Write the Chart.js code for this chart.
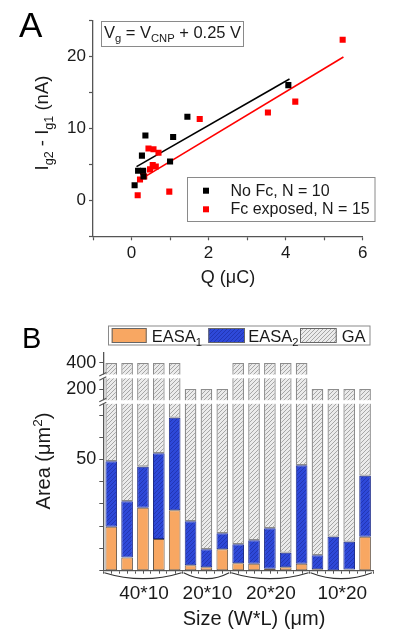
<!DOCTYPE html>
<html><head><meta charset="utf-8">
<script src="https://cdn.jsdelivr.net/npm/chart.js@4/dist/chart.umd.min.js"></script>
<style>
html,body{margin:0;padding:0;background:#fff;width:397px;height:637px;overflow:hidden}
canvas{position:absolute;left:0;display:block}
#cA{top:0}
#cB{top:300px}
</style></head><body>
<canvas id="cA" width="397" height="300"></canvas>
<canvas id="cB" width="397" height="337"></canvas>
<script>
const FONT = 'Arial, "Liberation Sans", Helvetica, sans-serif';

// ---------- Panel A data ----------
const seriesA = ['No Fc, N = 10', 'Fc exposed, N = 15'];
const noFcQ = [0.08, 0.17, 0.30, 0.31, 0.27, 0.36, 1.00, 1.08, 1.45, 4.07];
const noFcI = [2.1, 4.1, 4.1, 3.3, 6.2, 9.0, 5.4, 8.8, 11.6, 16.0];
const fcQ = [0.16, 0.98, 0.22, 0.33, 0.30, 0.48, 0.63, 0.55, 0.44, 0.57, 0.70, 1.77, 3.54, 4.25, 5.48];
const fcI = [0.7, 1.2, 2.9, 3.3, 3.9, 4.3, 4.7, 4.9, 7.2, 7.1, 6.6, 11.3, 12.2, 13.7, 22.3];
const noFcFitQ = [0.13, 4.10];
const noFcFitI = [4.67, 16.85];
const fcFitQ = [0.20, 5.50];
const fcFitI = [2.80, 19.90];
const xTickLabelsA = [0, 2, 4, 6];
const yTickLabelsA = [0, 10, 20];

// ---------- Panel B data ----------
const sizeGroups = ['40*10', '20*10', '20*20', '10*20'];
const devicesPerGroup = [5, 3, 5, 4];
const geometricArea = [400, 200, 400, 200];
const easa1 = [19.8, 5.9, 28.3, 14.3, 27.2, 2.4, 1.5, 9.6, 3.3, 3.1, 0.9, 1.5, 3.1, 0.6, 0.2, 0.5, 15.3];
const easa2 = [29.4, 25.3, 18.5, 38.5, 41.6, 19.8, 8.1, 7.2, 8.6, 10.6, 18.2, 6.6, 44.3, 6.3, 15.1, 12.5, 27.4];
const seriesB = ['EASA', 'EASA', 'GA'];
const yTickValuesB = [0, 10, 20, 30, 40, 50, 60, 70, 200, 400];
const yTickLabelsB = [50, 200, 400];

// ---------- helpers ----------
function richWidth(ctx, parts, size) {
  let w = 0;
  for (const p of parts) {
    ctx.font = ((p.s || p.u) ? size * 0.68 : size) + 'px ' + FONT;
    w += ctx.measureText(p.t).width;
  }
  return w;
}
function drawRich(ctx, parts, x, y, size, align, color) {
  const w = richWidth(ctx, parts, size);
  let cx = align === 'center' ? x - w / 2 : align === 'right' ? x - w : x;
  ctx.fillStyle = color || '#1a1a1a';
  ctx.textBaseline = 'alphabetic';
  ctx.textAlign = 'left';
  for (const p of parts) {
    const small = p.s || p.u;
    const fs = small ? size * 0.68 : size;
    ctx.font = fs + 'px ' + FONT;
    const dy = p.s ? size * 0.28 : p.u ? -size * 0.4 : 0;
    ctx.fillText(p.t, cx, y + dy);
    cx += ctx.measureText(p.t).width;
  }
}
function hatch(ctx, bg, fg, s, lw) {
  const c = document.createElement('canvas');
  c.width = s; c.height = s;
  const g = c.getContext('2d');
  g.fillStyle = bg; g.fillRect(0, 0, s, s);
  g.strokeStyle = fg; g.lineWidth = lw;
  g.beginPath();
  g.moveTo(-1, s + 1); g.lineTo(s + 1, -1);
  g.moveTo(-s / 2 - 1, s / 2 + 1); g.lineTo(s / 2 + 1, -s / 2 - 1);
  g.moveTo(s / 2 - 1, s * 1.5 + 1); g.lineTo(s * 1.5 + 1, s / 2 - 1);
  g.stroke();
  return ctx.createPattern(c, 'repeat');
}

const AXIS = '#555';
const TXT = '#1a1a1a';

// ---------- Panel A ----------
const pluginA = {
  id: 'decorA',
  afterDraw(chart) {
    const ctx = chart.ctx;
    ctx.save();
    ctx.fillStyle = '#000'; ctx.font = '35px ' + FONT; ctx.textAlign = 'left'; ctx.textBaseline = 'alphabetic';
    ctx.fillText('A', 19, 37);
    ctx.strokeStyle = '#8a8a8a'; ctx.lineWidth = 1;
    ctx.fillStyle = '#fff';
    ctx.fillRect(101.5, 21.5, 142, 25);
    ctx.strokeRect(101.5, 21.5, 142, 25);
    drawRich(ctx, [{t: 'V'}, {t: 'g', s: 1}, {t: ' = V'}, {t: 'CNP', s: 1}, {t: ' + 0.25 V'}], 172.5, 37.5, 16.5, 'center', TXT);
    ctx.fillStyle = '#fff';
    ctx.fillRect(187.5, 177.5, 187.5, 44);
    ctx.strokeStyle = '#8a8a8a';
    ctx.strokeRect(187.5, 177.5, 187.5, 44);
    const ys = [190.7, 209.3];
    chart.data.datasets.slice(0, 2).forEach((ds, i) => {
      ctx.fillStyle = ds.backgroundColor;
      ctx.fillRect(203, ys[i] - 3, 6, 6);
      ctx.fillStyle = TXT; ctx.font = '16px ' + FONT; ctx.textBaseline = 'middle'; ctx.textAlign = 'left';
      ctx.fillText(ds.label, 230.5, ys[i] + 0.5);
    });
    drawRich(ctx, [{t: 'Q (μC)'}], 228, 283, 18, 'center', TXT);
    ctx.translate(41.5, 123);
    ctx.rotate(-Math.PI / 2);
    drawRich(ctx, [{t: 'I'}, {t: 'g2', s: 1}, {t: ' - I'}, {t: 'g1', s: 1}, {t: ' (nA)'}], 0, 6, 18.5, 'center', TXT);
    ctx.restore();
  }
};

const ptBase = {pointStyle: 'rect', pointRadius: 4.3, pointHoverRadius: 4.3, borderWidth: 0, showLine: false};
new Chart(document.getElementById('cA'), {
  type: 'scatter',
  data: {
    datasets: [
      Object.assign({label: seriesA[0], data: noFcQ.map((q, i) => ({x: q, y: noFcI[i]})), backgroundColor: '#000000', borderColor: '#000000'}, ptBase),
      Object.assign({label: seriesA[1], data: fcQ.map((q, i) => ({x: q, y: fcI[i]})), backgroundColor: '#ff0000', borderColor: '#ff0000'}, ptBase),
      {label: 'fitNoFc', data: noFcFitQ.map((q, i) => ({x: q, y: noFcFitI[i]})), showLine: true, borderColor: '#000', borderWidth: 1.6, pointRadius: 0, fill: false},
      {label: 'fitFc', data: fcFitQ.map((q, i) => ({x: q, y: fcFitI[i]})), showLine: true, borderColor: '#ff0000', borderWidth: 1.6, pointRadius: 0, fill: false}
    ]
  },
  options: {
    responsive: false, animation: false, devicePixelRatio: 1, events: [],
    layout: {padding: {left: 0, right: 34.3, top: 20.3, bottom: 0}},
    plugins: {legend: {display: false}, tooltip: {enabled: false}},
    scales: {
      x: {
        type: 'linear', min: -1, max: 6,
        afterFit: s => { s.height = 63.7; },
        ticks: {stepSize: 1, autoSkip: false, maxRotation: 0, padding: 3, color: TXT, font: {family: FONT, size: 17},
          callback: v => xTickLabelsA.includes(v) ? String(v) : ''},
        grid: {drawOnChartArea: false, tickLength: 4, color: AXIS, tickWidth: 1.2},
        border: {color: AXIS, width: 1.3}
      },
      y: {
        type: 'linear', min: -5, max: 25,
        afterFit: s => { s.width = 93; },
        ticks: {stepSize: 5, autoSkip: false, padding: 3, color: TXT, font: {family: FONT, size: 17},
          callback: v => yTickLabelsA.includes(v) ? String(v) : ''},
        grid: {drawOnChartArea: false, tickLength: 4, color: AXIS, tickWidth: 1.2},
        border: {color: AXIS, width: 1.3}
      }
    }
  },
  plugins: [pluginA]
});

// ---------- Panel B ----------
const breakValues = [0, 76, 200, 300, 400, 422];
const breakFractions = [0, 0.7763, 0.8346, 0.8925, 0.9541, 1.0];
class BrokenLinearScale extends Chart.LinearScale {
  _frac(v) {
    if (v <= breakValues[0]) return breakFractions[0];
    for (let i = 1; i < breakValues.length; i++) {
      if (v <= breakValues[i]) {
        const t = (v - breakValues[i - 1]) / (breakValues[i] - breakValues[i - 1]);
        return breakFractions[i - 1] + t * (breakFractions[i] - breakFractions[i - 1]);
      }
    }
    return 1;
  }
  _val(f) {
    for (let i = 1; i < breakFractions.length; i++) {
      if (f <= breakFractions[i]) {
        const t = (f - breakFractions[i - 1]) / (breakFractions[i] - breakFractions[i - 1]);
        return breakValues[i - 1] + t * (breakValues[i] - breakValues[i - 1]);
      }
    }
    return breakValues[breakValues.length - 1];
  }
  getPixelForValue(value) { return this.getPixelForDecimal(this._frac(value)); }
  getValueForPixel(pixel) { return this._val(this.getDecimalForPixel(pixel)); }
}
BrokenLinearScale.id = 'brokenLinear';
BrokenLinearScale.defaults = Chart.LinearScale.defaults;
Chart.register(BrokenLinearScale);

const canvasB = document.getElementById('cB');
const ctxB = canvasB.getContext('2d');
const ORANGE = '#f8a762';
const blueFill = hatch(ctxB, '#2e49d9', '#2236b4', 4, 1);
const gaFill = hatch(ctxB, '#ebebeb', '#a6a6a6', 4, 1);

const deviceLabels = [];
const deviceGA = [];
sizeGroups.forEach((g, gi) => {
  for (let k = 0; k < devicesPerGroup[gi]; k++) {
    deviceLabels.push(g + ' #' + (k + 1));
    deviceGA.push(geometricArea[gi]);
  }
});
const gaRest = deviceGA.map((a, i) => a - easa1[i] - easa2[i]);

const bandsB = [[74.5, 78.3], [100.2, 103.8]];

const pluginB = {
  id: 'decorB',
  afterDatasetsDraw(chart) {
    const ctx = chart.ctx, ca = chart.chartArea;
    const ax = ca.left;
    ctx.save();
    ctx.fillStyle = '#fff';
    bandsB.forEach(([y1, y2]) => ctx.fillRect(ax - 6, y1, ca.right + 4 - (ax - 6), y2 - y1));
    ctx.strokeStyle = AXIS; ctx.lineWidth = 1.2;
    bandsB.forEach(([y1, y2]) => {
      ctx.beginPath();
      ctx.moveTo(ax - 4, y1 + 1.5); ctx.lineTo(ax + 3, y1 - 2);
      ctx.moveTo(ax - 4, y2 + 2); ctx.lineTo(ax + 3, y2 - 1.5);
      ctx.stroke();
    });
    ctx.restore();
  },
  afterDraw(chart) {
    const ctx = chart.ctx, ca = chart.chartArea, xs = chart.scales.x;
    const n = deviceLabels.length;
    const cw = (ca.right - ca.left) / n;
    ctx.save();
    ctx.strokeStyle = AXIS; ctx.lineWidth = 1;
    for (let i = 0; i < n; i++) {
      const px = Math.round(xs.getPixelForValue(i)) + 0.5;
      ctx.beginPath(); ctx.moveTo(px, ca.bottom); ctx.lineTo(px, ca.bottom + 3); ctx.stroke();
    }
    let start = 0;
    ctx.strokeStyle = '#333'; ctx.lineWidth = 1.2;
    sizeGroups.forEach((g, gi) => {
      const end = start + devicesPerGroup[gi] - 1;
      const x0 = xs.getPixelForValue(start) - cw / 2 + 1;
      const x1 = xs.getPixelForValue(end) + cw / 2 - 1;
      ctx.beginPath();
      ctx.moveTo(x0, ca.bottom + 2);
      ctx.quadraticCurveTo((x0 + x1) / 2, ca.bottom + 14, x1, ca.bottom + 2);
      ctx.stroke();
      const mid = (xs.getPixelForValue(start) + xs.getPixelForValue(end)) / 2;
      ctx.fillStyle = TXT; ctx.font = '19px ' + FONT; ctx.textAlign = 'center'; ctx.textBaseline = 'middle';
      ctx.fillText(g, mid + 1, 294);
      start = end + 1;
    });
    ctx.font = '20px ' + FONT;
    ctx.textBaseline = 'middle';
    ctx.fillText('Size (W*L) (μm)', 254, 319);
    ctx.save();
    ctx.translate(43, 161);
    ctx.rotate(-Math.PI / 2);
    drawRich(ctx, [{t: 'Area (μm'}, {t: '2', u: 1}, {t: ')'}], 0, 7, 20, 'center', TXT);
    ctx.restore();
    ctx.fillStyle = '#000'; ctx.font = '29px ' + FONT; ctx.textAlign = 'left'; ctx.textBaseline = 'alphabetic';
    ctx.fillText('B', 22, 47.5);
    ctx.fillStyle = '#fff'; ctx.fillRect(108.5, 26, 261.5, 19);
    ctx.strokeStyle = '#8a8a8a'; ctx.lineWidth = 1; ctx.strokeRect(108.5, 26, 261.5, 19);
    const sw = [[111.7, 35], [208.3, 36.7], [300, 36.7]];
    const tx = [151.7, 248.3, 341.7];
    const subs = ['1', '2', null];
    chart.data.datasets.forEach((ds, i) => {
      ctx.fillStyle = ds.backgroundColor;
      ctx.fillRect(sw[i][0], 28, sw[i][1], 15);
      ctx.strokeStyle = '#666'; ctx.strokeRect(sw[i][0] + 0.5, 28.5, sw[i][1] - 1, 14);
      const parts = subs[i] ? [{t: ds.label}, {t: subs[i], s: 1}] : [{t: ds.label}];
      drawRich(ctx, parts, tx[i], 41.5, 16.5, 'left', TXT);
    });
    ctx.restore();
  }
};

new Chart(canvasB, {
  type: 'bar',
  data: {
    labels: deviceLabels,
    datasets: [
      {label: seriesB[0], data: easa1, backgroundColor: ORANGE, borderColor: '#6a5848', borderWidth: 1, borderSkipped: false},
      {label: seriesB[1], data: easa2, backgroundColor: blueFill, borderColor: '#1b2a8a', borderWidth: 1, borderSkipped: false},
      {label: seriesB[2], data: gaRest, backgroundColor: gaFill, borderColor: '#8c8c8c', borderWidth: 1.3, borderSkipped: false}
    ]
  },
  options: {
    responsive: false, animation: false, devicePixelRatio: 1, events: [],
    layout: {padding: {left: 0, right: 24, top: 53, bottom: 0}},
    plugins: {legend: {display: false}, tooltip: {enabled: false}},
    datasets: {bar: {barPercentage: 0.735, categoryPercentage: 1}},
    scales: {
      x: {
        type: 'category', stacked: true, offset: true,
        afterFit: s => { s.height = 66.3; },
        ticks: {display: false},
        grid: {drawOnChartArea: false, offset: true, tickLength: 3, color: AXIS},
        border: {color: AXIS, width: 1.3}
      },
      y: {
        type: 'brokenLinear', stacked: true, min: 0, max: 422,
        afterFit: s => { s.width = 103.3; },
        afterBuildTicks: s => { s.ticks = yTickValuesB.map(v => ({value: v})); },
        ticks: {autoSkip: false, padding: 3, color: TXT, font: {family: FONT, size: 18},
          callback: v => yTickLabelsB.includes(v) ? String(v) : ''},
        grid: {drawOnChartArea: false, tickLength: 4, color: AXIS},
        border: {color: AXIS, width: 1.3}
      }
    }
  },
  plugins: [pluginB]
});
</script>
</body></html>
